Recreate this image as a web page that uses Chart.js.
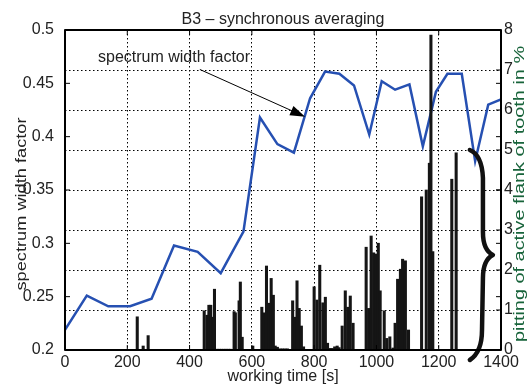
<!DOCTYPE html>
<html>
<head>
<meta charset="utf-8">
<script src="https://cdn.jsdelivr.net/npm/chart.js@4.4.0/dist/chart.umd.min.js"></script>
<style>
  html, body { margin: 0; padding: 0; background: #fff; }
  #wrap { width: 531px; height: 385px; }
</style>
</head>
<body>
<div id="wrap"><canvas id="grafico"></canvas></div>
<script>
// spectrum width factor (linha azul)
const lineTimes = [0, 70, 139, 209, 278, 350, 426, 500, 573, 626, 682, 735, 787, 835, 881, 928, 977, 1017, 1060, 1106, 1149, 1191, 1228, 1274, 1317, 1359, 1400];
const lineValues = [0.219, 0.251, 0.241, 0.241, 0.248, 0.298, 0.292, 0.272, 0.311, 0.418, 0.393, 0.385, 0.436, 0.461, 0.459, 0.448, 0.402, 0.452, 0.444, 0.449, 0.391, 0.442, 0.459, 0.459, 0.377, 0.430, 0.435];

// pitting of active flank of tooth in % (barras)
const barTimes = [232, 251, 267,
  447, 456, 462, 468, 474, 480, 488, 495, 502, 510, 517, 524, 531,
  543, 547, 559, 563, 569, 603,
  632, 640, 647, 656, 662, 669, 675, 682, 690, 698, 706, 714,
  731, 738, 745, 752, 759, 766,
  800, 809, 818, 828, 836, 843, 850, 858, 866, 874, 880,
  890, 900, 908, 916, 925,
  967, 975, 983, 991, 998, 1006, 1012,
  1025, 1033, 1043, 1053, 1060, 1068, 1077, 1084, 1093, 1103,
  1145, 1160, 1170, 1175, 1181,
  1242, 1256];
const barPitting = [0.83, 0.10, 0.36,
  0.98, 0.87, 1.12, 1.12, 0.82, 1.52, 0.02, 0.02, 0.02, 0.02, 0.02, 0.02, 0.02,
  0.96, 0.93, 1.23, 1.70, 0.32, 0.10,
  1.07, 0.93, 2.10, 1.17, 1.79, 1.37, 0.10, 0.07, 0.03, 0.03, 0.03, 0.03,
  1.23, 0.82, 1.73, 1.04, 0.60, 0.08,
  1.58, 1.25, 2.12, 1.18, 1.32, 0.17, 0.04, 0.04, 0.08, 0.10, 0.06,
  0.60, 1.48, 1.07, 1.35, 0.67,
  2.57, 1.04, 2.85, 2.43, 2.40, 2.67, 1.48,
  0.98, 0.29, 0.33, 0.05, 0.67, 1.77, 2.02, 2.27, 2.23, 0.50,
  3.83, 4.00, 4.67, 7.87, 2.46,
  4.27, 4.93];

// rótulos dos eixos
const xTicks = [0, 200, 400, 600, 800, 1000, 1200, 1400];
const leftTicks = [0.2, 0.25, 0.3, 0.35, 0.4, 0.45, 0.5];
const rightTicks = [0, 1, 2, 3, 4, 5, 6, 7, 8];

const fonte = 'Liberation Sans, Arial, Helvetica, sans-serif';

// chave "}" à direita, em coordenadas de dados (tempo, pitting)
const brace = [
  [1300, 5.0], [1339, 4.87], [1342, 4.3],
  [1342, 2.95], [1342, 2.5], [1374, 2.375],
  [1342, 2.25], [1342, 1.8],
  [1339, 0.5], [1339, -0.05], [1300, -0.25]
];

const extras = {
  id: 'extras',
  afterDatasetsDraw(chart) {
    const { ctx, chartArea: a, scales } = chart;
    const x = scales.x, y = scales.y, y1 = scales.y1;
    const px = t => x.getPixelForValue(t);
    const py = v => y1.getPixelForValue(v);
    ctx.save();

    // chave
    ctx.strokeStyle = '#111';
    ctx.lineWidth = 4.5;
    ctx.lineCap = 'round';
    ctx.lineJoin = 'round';
    ctx.beginPath();
    ctx.moveTo(px(brace[0][0]), py(brace[0][1]));
    ctx.quadraticCurveTo(px(brace[1][0]), py(brace[1][1]), px(brace[2][0]), py(brace[2][1]));
    ctx.lineTo(px(brace[3][0]), py(brace[3][1]));
    ctx.quadraticCurveTo(px(brace[4][0]), py(brace[4][1]), px(brace[5][0]), py(brace[5][1]));
    ctx.quadraticCurveTo(px(brace[6][0]), py(brace[6][1]), px(brace[7][0]), py(brace[7][1]));
    ctx.lineTo(px(brace[8][0]), py(brace[8][1]));
    ctx.quadraticCurveTo(px(brace[9][0]), py(brace[9][1]), px(brace[10][0]), py(brace[10][1]));
    ctx.stroke();

    // caixa
    ctx.strokeStyle = '#000';
    ctx.lineWidth = 2;
    ctx.lineCap = 'butt';
    ctx.strokeRect(a.left, a.top, a.right - a.left, a.bottom - a.top);

    // marcas para dentro
    ctx.lineWidth = 1;
    ctx.beginPath();
    xTicks.forEach(t => {
      const p = px(t);
      ctx.moveTo(p, a.bottom); ctx.lineTo(p, a.bottom - 5);
      ctx.moveTo(p, a.top); ctx.lineTo(p, a.top + 5);
    });
    leftTicks.forEach(v => {
      const p = y.getPixelForValue(v);
      ctx.moveTo(a.left, p); ctx.lineTo(a.left + 5, p);
      ctx.moveTo(a.right, p); ctx.lineTo(a.right - 5, p);
    });
    rightTicks.forEach(v => {
      const p = py(v);
      ctx.moveTo(a.right, p); ctx.lineTo(a.right - 5, p);
    });
    ctx.stroke();

    // anotação com seta
    const x0 = px(433), y0 = y.getPixelForValue(0.463);
    const x1 = px(771), yy1 = y.getPixelForValue(0.4187);
    const ang = Math.atan2(yy1 - y0, x1 - x0);
    ctx.strokeStyle = '#000';
    ctx.lineWidth = 1;
    ctx.beginPath();
    ctx.moveTo(x0, y0);
    ctx.lineTo(x1 - 12 * Math.cos(ang), yy1 - 12 * Math.sin(ang));
    ctx.stroke();
    ctx.fillStyle = '#000';
    ctx.beginPath();
    ctx.moveTo(x1, yy1);
    ctx.lineTo(x1 - 15 * Math.cos(ang) + 5 * Math.sin(ang), yy1 - 15 * Math.sin(ang) - 5 * Math.cos(ang));
    ctx.lineTo(x1 - 15 * Math.cos(ang) - 5 * Math.sin(ang), yy1 - 15 * Math.sin(ang) + 5 * Math.cos(ang));
    ctx.closePath();
    ctx.fill();

    ctx.font = '16px ' + fonte;
    ctx.fillStyle = '#222';
    ctx.textAlign = 'left';
    ctx.textBaseline = 'middle';
    ctx.fillText('spectrum width factor', px(106), y.getPixelForValue(0.474));

    // título do gráfico, centrado na área do gráfico
    ctx.textAlign = 'center';
    ctx.textBaseline = 'alphabetic';
    ctx.fillText('B3 – synchronous averaging', (a.left + a.right) / 2, 24);

    // títulos verticais (esticados como no original)
    ctx.textBaseline = 'middle';
    ctx.font = '14px ' + fonte;
    ctx.save();
    ctx.translate(22, 204);
    ctx.rotate(-Math.PI / 2);
    ctx.scale(1.3, 1);
    ctx.fillStyle = '#222';
    ctx.fillText('spectrum width factor', 0, 0);
    ctx.restore();

    ctx.save();
    ctx.translate(520, 194);
    ctx.rotate(-Math.PI / 2);
    ctx.scale(1.42, 1);
    ctx.fillStyle = '#17633a';
    ctx.fillText('pitting of active flank of tooth in %', 0, 0);
    ctx.restore();

    ctx.restore();
  }
};

const ctx = document.getElementById('grafico').getContext('2d');
const grafico = new Chart(ctx, {
  data: {
    datasets: [{
      type: 'bar',
      label: 'pitting',
      data: barTimes.map((t, i) => ({ x: t, y: barPitting[i] })),
      yAxisID: 'y1',
      backgroundColor: '#151515',
      borderWidth: 0,
      barThickness: 2.4,
      order: 0
    }, {
      type: 'line',
      label: 'spectrum width factor',
      data: lineTimes.map((t, i) => ({ x: t, y: lineValues[i] })),
      yAxisID: 'y',
      borderColor: 'rgb(38, 80, 178)',
      borderWidth: 2.5,
      pointRadius: 0,
      tension: 0,
      order: 1
    }]
  },
  options: {
    responsive: true,
    maintainAspectRatio: false,
    animation: false,
    layout: { padding: { top: 30 } },
    plugins: {
      legend: { display: false },
      tooltip: { enabled: false },
      title: { display: false }
    },
    scales: {
      x: {
        type: 'linear',
        min: 0, max: 1400,
        offset: false,
        afterBuildTicks: s => { s.ticks = xTicks.map(v => ({ value: v })); },
        afterFit: s => { s.height = 35; },
        ticks: { color: '#222', font: { family: fonte, size: 16 }, padding: 3, maxRotation: 0, callback: v => String(v) },
        grid: { color: '#000', lineWidth: 1, drawTicks: false, offset: false },
        border: { display: false, dash: [1.5, 2.5] },
        title: {
          display: true,
          text: 'working time [s]',
          color: '#222',
          font: { family: fonte, size: 16, lineHeight: 1 },
          padding: 0
        }
      },
      y: {
        position: 'left',
        min: 0.2, max: 0.5,
        afterBuildTicks: s => { s.ticks = leftTicks.map(v => ({ value: v })); },
        afterFit: s => { s.width = 65; },
        ticks: { color: '#222', font: { family: fonte, size: 16 }, padding: 3, callback: v => String(v) },
        grid: { display: false },
        border: { display: false }
      },
      y1: {
        position: 'right',
        min: 0, max: 8,
        afterBuildTicks: s => { s.ticks = rightTicks.map(v => ({ value: v })); },
        afterFit: s => { s.width = 30; },
        ticks: { color: '#222', font: { family: fonte, size: 16 }, padding: 3, callback: v => String(v) },
        grid: { color: '#000', lineWidth: 1, drawTicks: false },
        border: { display: false, dash: [1.5, 2.5] }
      }
    }
  },
  plugins: [extras]
});
</script>
</body>
</html>
